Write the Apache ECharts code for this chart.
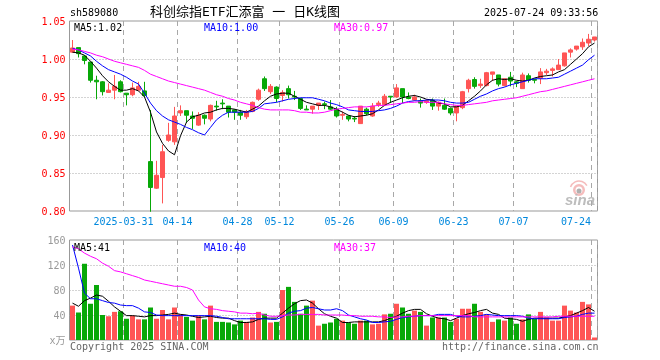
<!DOCTYPE html>
<html>
<head>
<meta charset="utf-8">
<style>html,body{margin:0;padding:0;background:#fff}#c{width:660px;height:360px}</style>
<script src="https://cdn.jsdelivr.net/npm/echarts@6/dist/echarts.min.js"></script>
</head>
<body>
<div id="c"></div>
<script>
const dates = ['2025-03-18','2025-03-19','2025-03-20','2025-03-21','2025-03-24','2025-03-25','2025-03-26','2025-03-27','2025-03-28','2025-03-31',
'2025-04-01','2025-04-02','2025-04-03','2025-04-07','2025-04-08','2025-04-09','2025-04-10','2025-04-11','2025-04-14','2025-04-15',
'2025-04-16','2025-04-17','2025-04-18','2025-04-21','2025-04-22','2025-04-23','2025-04-24','2025-04-25','2025-04-28','2025-04-29',
'2025-04-30','2025-05-06','2025-05-07','2025-05-08','2025-05-09','2025-05-12','2025-05-13','2025-05-14','2025-05-15','2025-05-16',
'2025-05-19','2025-05-20','2025-05-21','2025-05-22','2025-05-23','2025-05-26','2025-05-27','2025-05-28','2025-05-29','2025-05-30',
'2025-06-03','2025-06-04','2025-06-05','2025-06-06','2025-06-09','2025-06-10','2025-06-11','2025-06-12','2025-06-13','2025-06-16',
'2025-06-17','2025-06-18','2025-06-19','2025-06-20','2025-06-23','2025-06-24','2025-06-25','2025-06-26','2025-06-27','2025-06-30',
'2025-07-01','2025-07-02','2025-07-03','2025-07-04','2025-07-07','2025-07-08','2025-07-09','2025-07-10','2025-07-11','2025-07-14',
'2025-07-15','2025-07-16','2025-07-17','2025-07-18','2025-07-21','2025-07-22','2025-07-23','2025-07-24'];
const tickDates = ['2025-03-31','2025-04-14','2025-04-28','2025-05-12','2025-05-26','2025-06-09','2025-06-23','2025-07-07','2025-07-24'];

const opens = [1.009,1.015,1.004,.996,.972,.970,.956,.959,.970,.955,.953,.959,.958,.865,.830,.844,.893,.891,.929,.932,.925,.913,.926,.921,.938,.942,.938,.933,.930,.924,.931,.947,.974,.957,.963,.952,.961,.951,.948,.934,.934,.939,.941,.937,.934,.926,.925,.922,.915,.934,.925,.940,.940,.951,.950,.961,.950,.946,.945,.943,.946,.938,.939,.935,.929,.936,.961,.973,.965,.965,.980,.979,.965,.976,.970,.961,.978,.973,.975,.982,.985,.986,.991,1.009,1.013,1.016,1.021,1.025];
const closes = [1.0145,1.007,.998,.972,.970,.957,.959,.964,.957,.953,.962,.964,.952,.831,.847,.878,.900,.925,.932,.926,.922,.926,.922,.939,.937,.941,.930,.930,.926,.931,.943,.959,.961,.964,.948,.956,.953,.950,.935,.933,.938,.942,.940,.934,.925,.927,.921,.921,.938,.928,.938,.942,.951,.950,.962,.950,.948,.950,.942,.945,.938,.943,.934,.929,.938,.957,.972,.964,.967,.982,.983,.967,.974,.971,.968,.979,.972,.972,.983,.984,.987,.992,1.008,1.012,1.017,1.022,1.026,1.029];
const lows = [1.008,1.002,.993,.969,.947,.952,.956,.947,.956,.939,.951,.959,.950,.799,.829,.810,.891,.887,.925,.916,.908,.912,.914,.918,.932,.934,.923,.920,.920,.921,.930,.945,.958,.954,.943,.944,.948,.946,.933,.933,.928,.933,.934,.933,.923,.920,.918,.917,.915,.926,.924,.937,.938,.942,.949,.942,.947,.945,.936,.941,.933,.932,.933,.926,.918,.934,.956,.961,.962,.964,.971,.964,.964,.964,.963,.961,.969,.968,.967,.979,.977,.986,.990,1.002,1.011,1.012,1.017,1.023];
const highs = [1.025,1.015,1.005,.996,.978,.971,.968,.979,.972,.955,.969,.970,.970,.933,.866,.887,.916,.937,.939,.932,.931,.930,.927,.940,.945,.947,.938,.934,.933,.933,.944,.961,.977,.967,.964,.959,.965,.958,.948,.939,.938,.942,.944,.946,.937,.931,.926,.925,.938,.936,.942,.945,.954,.951,.967,.961,.956,.953,.948,.947,.948,.944,.948,.936,.938,.958,.974,.976,.974,.983,.983,.979,.975,.983,.971,.982,.981,.974,.988,.987,.989,1.000,1.008,1.014,1.017,1.027,1.033,1.029];

const ma5 = [1.009,1.008,1.005,.997,.988,.978,.970,.964,.959,.959,.961,.958,.950,.930,.904,.889,.879,.874,.899,.917,.924,.926,.929,.930,.933,.935,.935,.934,.932,.930,.934,.938,.945,.951,.954,.955,.955,.951,.947,.943,.941,.939,.939,.937,.934,.930,.926,.924,.925,.926,.928,.933,.939,.943,.946,.949,.951,.952,.950,.947,.946,.942,.941,.937,.937,.939,.945,.951,.958,.966,.972,.974,.973,.974,.972,.971,.972,.975,.977,.978,.979,.983,.986,.993,1.000,1.007,1.016,1.021];
const ma10 = [1.014,1.012,1.008,1.004,.997,.991,.986,.983,.980,.976,.971,.967,.955,.942,.932,.925,.920,.917,.914,.910,.907,.903,.900,.910,.920,.926,.930,.930,.930,.930,.931,.935,.941,.942,.943,.945,.947,.948,.949,.949,.949,.947,.945,.942,.940,.937,.933,.932,.931,.931,.931,.932,.933,.935,.938,.942,.944,.945,.945,.946,.946,.946,.945,.943,.942,.942,.943,.947,.951,.954,.958,.961,.963,.966,.968,.970,.972,.974,.974,.974,.975,.976,.980,.984,.988,.992,.999,1.005];
const ma30 = [1.013,1.012,1.010,1.008,1.005,1.003,1.000,.997,.995,.993,.991,.989,.985,.980,.977,.974,.971,.969,.967,.965,.963,.961,.959,.956,.953,.951,.948,.946,.943,.941,.939,.936,.934,.933,.933,.933,.933,.932,.930,.930,.929,.929,.930,.932,.934,.935,.936,.937,.937,.937,.938,.939,.939,.940,.941,.942,.943,.943,.944,.943,.943,.943,.941,.940,.939,.939,.940,.941,.942,.943,.945,.946,.947,.948,.949,.951,.953,.955,.957,.958,.960,.962,.964,.966,.968,.970,.972,.974];

const volumes = [55,44,122,58,88,40,38,45,46,34,39,33,33,52,34,48,33,52,41,37,31,39,33,55,29,29,28,25,31,29,36,45,42,28,29,80,85,61,42,55,63,23,26,28,34,31,28,26,31,31,25,26,41,42,58,52,42,47,45,23,36,36,36,29,34,50,50,58,45,41,29,33,31,36,26,33,41,34,45,36,31,31,55,47,44,61,57,4];
const volMa5 = [59,54,63,67,72,70,62,53,46,39,39,38,37,39,39,40,41,43,41,40,38,36,37,38,36,35,35,31,28,28,29,33,35,35,35,43,51,58,63,64,59,50,42,38,35,28,28,29,29,29,29,29,31,35,38,43,47,49,49,42,38,35,34,31,35,39,42,44,47,49,43,41,35,34,33,30,33,35,35,35,35,35,37,39,43,47,52,46];
const volMa10 = [152,115,75,66,66,63,60,59,56,55,55,51,45,44,40,39,39,39,39,39,39,39,39,39,38,36,34,34,34,34,34,34,34,33,33,37,43,46,47,51,52,50,48,48,50,47,40,37,34,32,28,28,29,30,33,36,37,38,39,39,39,41,41,41,38,37,37,38,39,41,40,39,39,39,39,38,35,34,34,34,34,34,36,37,38,41,43,43];
const volMa30 = [149,146,139,134,130,123,118,111,109,106,103,100,96,94,92,90,88,86,86,84,80,64,53,50,49,47,46,45,43,43,42,43,40,38,38,39,40,40,41,41,41,41,40,40,40,40,39,39,38,38,38,37,37,36,37,37,38,38,39,39,39,39,39,39,39,39,39,37,37,37,37,37,37,37,37,37,37,37,37,37,37,38,38,38,38,38,38,38];

const priceTicks = {min:.8, max:1.05, interval:.05};
const volTicks = {min:0, max:160, interval:40};

const UP = '#ff5555', DOWN = '#08a808', GRID = '#a8a8a8', FRAME = '#999999';
const MONO = '"DejaVu Sans Mono","Liberation Mono","Noto Sans CJK SC",monospace';
const isTick = (i) => tickDates.includes(dates[i]);

const chart = echarts.init(document.getElementById('c'), null, {renderer:'canvas'});

const txt = (t, left, top, color, size) => ({text:t, left, top, padding:0,
  textStyle:{color, fontFamily:MONO, fontSize:size||10, fontWeight:'normal', lineHeight:12}});

const maLine = (name, data, color, xi) => ({name, type:'line', data, xAxisIndex:xi, yAxisIndex:xi,
  showSymbol:false, symbol:'none', smooth:false, silent:true, z:5,
  lineStyle:{color, width:1}, emphasis:{disabled:true}});

chart.setOption({
  animation:false,
  backgroundColor:'#ffffff',
  title:[
    txt('sh589080',70,7,'#000000'),
    txt('科创综指ETF汇添富 一 日K线图',150,7,'#000000',13),
    txt('2025-07-24 09:33:56',484,7,'#000000'),
    txt('MA5:1.02',74,22,'#000000'),
    txt('MA10:1.00',204,22,'#0000ff'),
    txt('MA30:0.97',334,22,'#ff00ff'),
    txt('MA5:41',74,242,'#000000'),
    txt('MA10:40',204,242,'#0000ff'),
    txt('MA30:37',334,242,'#ff00ff'),
    txt('Copyright 2025 SINA.COM',70,341,'#666666'),
    txt('http://finance.sina.com.cn',442,341,'#666666')
  ],
  grid:[
    {left:69.5, top:21, width:528, height:190, show:true, borderColor:FRAME, borderWidth:1, backgroundColor:'transparent'},
    {left:69.5, top:240, width:528, height:100, show:true, borderColor:FRAME, borderWidth:1, backgroundColor:'transparent'}
  ],
  xAxis:[0,1].map(g => ({
    type:'category', gridIndex:g, data:dates, boundaryGap:true,
    axisLine:{show:false}, axisTick:{show:false},
    splitLine:{show:true, interval:(i)=>isTick(i), lineStyle:{color:GRID, type:[5,4], width:1}},
    axisLabel: g===0 ? {
      show:true, interval:(i)=>isTick(i), margin:6, color:'#0088dd', fontFamily:MONO, fontSize:10,
      hideOverlap:false,
      formatter:(v)=>{
        if (v===tickDates[0]) return '{d|'+v+'}';
        return (v===tickDates[tickDates.length-1] ? '{last|' : '{d|') + v.slice(5) + '}';
      },
      rich:{
        d:{color:'#0088dd', fontFamily:MONO, fontSize:10, padding:[0,6,0,0]},
        last:{color:'#0088dd', fontFamily:MONO, fontSize:10, padding:[0,37,0,0]}
      }
    } : {show:false}
  })),
  yAxis:[
    {type:'value', gridIndex:0, min:priceTicks.min, max:priceTicks.max, interval:priceTicks.interval, scale:true,
      axisLine:{show:false}, axisTick:{show:false},
      splitLine:{show:true, showMinLine:false, showMaxLine:false, lineStyle:{color:GRID, type:[1,2], width:1}},
      axisLabel:{color:'#ff0000', fontFamily:MONO, fontSize:10, margin:4, verticalAlign:'top', lineHeight:2, formatter:(v)=>v.toFixed(2)}},
    {type:'value', gridIndex:1, min:volTicks.min, max:volTicks.max, interval:volTicks.interval,
      axisLine:{show:false}, axisTick:{show:false},
      splitLine:{show:true, showMinLine:false, showMaxLine:false, lineStyle:{color:GRID, type:[1,2], width:1}},
      axisLabel:{color:'#999999', fontFamily:MONO, fontSize:10, margin:4, verticalAlign:'top', lineHeight:2,
        formatter:(v)=> v===0 ? 'x万' : String(v)}}
  ],
  series:[
    {name:'K', type:'candlestick', xAxisIndex:0, yAxisIndex:0, barWidth:4, silent:true, z:3,
      data: dates.map((d,i)=>[opens[i],closes[i],lows[i],highs[i]]),
      itemStyle:{color:UP, color0:DOWN, borderColor:UP, borderColor0:DOWN, borderWidth:1}},
    maLine('MA5',ma5,'#000000',0),
    maLine('MA10',ma10,'#0000ff',0),
    maLine('MA30',ma30,'#ff00ff',0),
    {name:'VOL', type:'bar', xAxisIndex:1, yAxisIndex:1, barWidth:5, silent:true, z:3,
      data: volumes.map((v,i)=>({value:v, itemStyle:{color: closes[i]>=opens[i] ? UP : DOWN}}))},
    maLine('vMA5',volMa5,'#000000',1),
    maLine('vMA10',volMa10,'#0000ff',1),
    maLine('vMA30',volMa30,'#ff00ff',1)
  ],
  graphic:[
    {type:'group', silent:true, z:1, children:[
      {type:'ring', shape:{cx:579, cy:190, r:6, r0:3.5}, style:{fill:'#f5bcbc'}},
      {type:'arc', shape:{cx:579, cy:190, r:9, startAngle:-2.8, endAngle:-0.5}, style:{stroke:'#f5bcbc', lineWidth:1.5, fill:'none'}},
      {type:'circle', shape:{cx:579, cy:191, r:2.5}, style:{fill:'#b0b0b0'}},
      {type:'text', x:565, y:193, style:{text:'sina', fill:'#bdbdbd', font:'italic bold 15px "Liberation Sans",sans-serif'}}
    ]}
  ]
});
</script>
</body>
</html>
